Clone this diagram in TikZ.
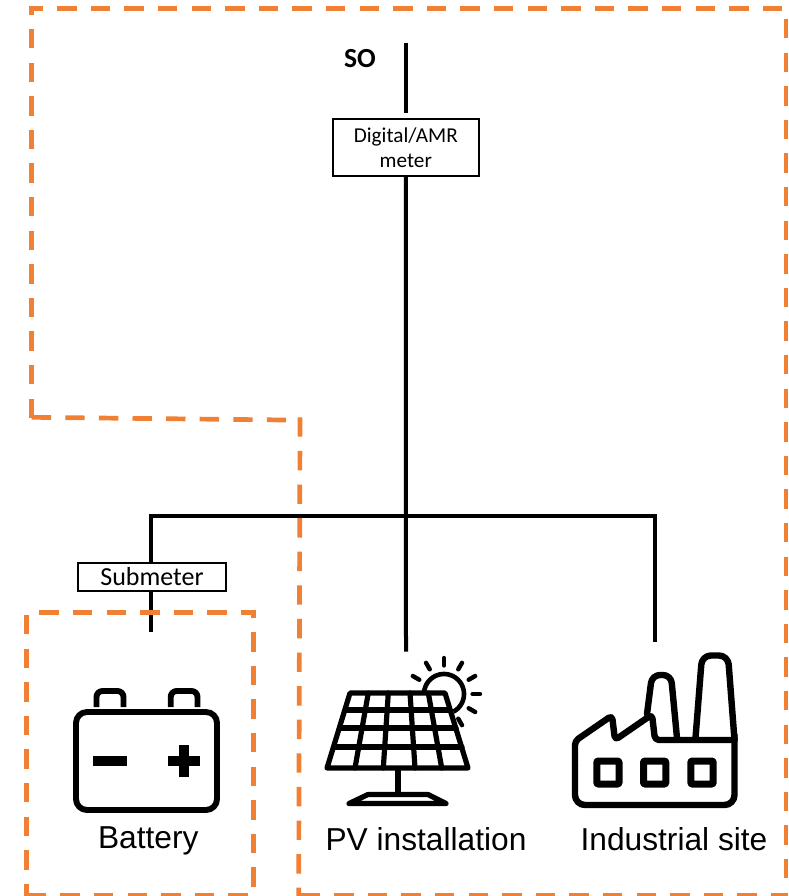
\documentclass[tikz,border=0pt]{standalone}
\usepackage{fontspec}
\setmainfont{Liberation Sans}
\newfontfamily\carl{Carlito}
\usetikzlibrary{calc}
\definecolor{dashorange}{RGB}{240,128,52}
\tikzset{
  zone/.style={draw=dashorange,line width=4.7pt,dash pattern=on 19.4pt off 14.2pt},
  wire/.style={draw=black,line width=4pt},
  meterbox/.style={draw=black,line width=2pt,fill=white,inner sep=0pt,align=center,text=black},
  icon/.style={draw=black,line width=5.9pt,line join=round,line cap=round},
  factory/.style={draw=black,line width=6.4pt,line join=round,line cap=round},
  panel/.style={draw=black,line width=5.2pt,line join=round,line cap=round},
  caption/.style={inner sep=0pt,anchor=base,text=black,font=\fontsize{31.7}{36}\selectfont},
}
\begin{document}
\begin{tikzpicture}[x=1pt,y=-1pt]
\useasboundingbox (0,0) rectangle (788,896);
% free connector ends
\coordinate (top) at (406,42.7);
\coordinate (mtop) at (406,113);
\coordinate (junction) at (406,516);
\coordinate (busL) at (151.3,516);
\coordinate (busR) at (655,516);
\coordinate (pvEnd) at (406,651.7);
\coordinate (batEnd) at (151.3,632);
\coordinate (indEnd) at (655,642);
% meters and label
\node[meterbox,minimum width=146.5pt,minimum height=56.5pt,font=\carl\fontsize{21.2}{25}\selectfont] (meter) at (405.8,147.5)
  {Digital/AMR\\ meter};
\node[meterbox,minimum width=148.6pt,minimum height=27.4pt,font=\carl\fontsize{26}{28}\selectfont] (sub) at (152,577)
  {Submeter};
\node[inner sep=0pt,anchor=base,text=black,font=\carl\bfseries\fontsize{27.6}{30}\selectfont] (so) at (360,68) {SO};
% wires
\draw[wire] (top) -- (mtop);
\draw[wire] (meter.south) -- (pvEnd);
\draw[wire,line cap=rect] (busL) -- (busR);
\draw[wire] (busL) -- (busL |- sub.north);
\draw[wire] (busL |- sub.south) -- (batEnd);
\draw[wire] (busR) -- (indEnd);
% orange zone around the site
\draw[zone] (31.5,418) -- (31.5,6.4);
\draw[zone,dash phase=8] (31.5,8.7) -- (786,8.7);
\draw[zone] (786,19) -- (786,896);
\draw[zone] (300.5,895.5) -- (788,895.5);
\draw[zone] (300,417.3) -- (298.7,896);
\draw[zone] (31.7,417.3) -- (286,420);
% orange zone around the battery
\draw[zone] (39.3,612.5) -- (255.8,612.5);
\draw[zone,dash phase=14] (253.5,612.5) -- (253.5,896);
\draw[zone] (26.7,615) -- (26.7,896);
\draw[zone] (26.7,895.5) -- (253,895.5);
% battery icon
\draw[icon,rounded corners=11pt] (76,712) rectangle (217,810);
\draw[icon,line cap=butt,rounded corners=6pt] (96.5,707) -- (96.5,691) -- (123.5,691) -- (123.5,707);
\draw[icon,line cap=butt,rounded corners=6pt] (170.7,707) -- (170.7,691) -- (197.5,691) -- (197.5,707);
\fill[black] (93,756) rectangle (127,766);
\fill[black] (168,756) rectangle (200,766);
\fill[black] (179,745) rectangle (189,777);
% solar panel icon
\draw[panel] (350,693) -- (445,693) -- (468,768) -- (327,768) -- cycle;
\draw[panel] (346,710) -- (450,710);
\draw[panel] (340,728) -- (456,728);
\draw[panel] (334.5,747) -- (462,747);
\draw[panel] (368.3,693) -- (355,768);
\draw[panel] (388.3,693) -- (383.3,768);
\draw[panel] (410,693) -- (415,768);
\draw[panel] (428.3,693) -- (441.7,768);
\draw[panel,line cap=butt] (398,768) -- (398,795);
\draw[panel] (349,803.5) -- (368,794.5) -- (428,794.5) -- (446,803.5) -- cycle;
\coordinate (sun) at (444,694);
\draw[panel,line cap=butt,line width=4.6pt] plot[smooth,domain=-180:62,samples=50] ({444+20*cos(\x)},{694+20*sin(\x)});
\foreach \a in {-150,-120,-90,-60,-30,0,30,60}
  \draw[panel,line width=4.4pt] ($(sun)+(\a:28.5)$) -- ($(sun)+(\a:36)$);
% factory icon
\draw[factory,rounded corners=10pt] (575,765) -- (575,805) -- (734.5,805) -- (734.5,735);
\draw[factory,rounded corners=4pt] (575,765) -- (575,741) -- (612,715.5) -- (615,740) -- (652,714.5) -- (655,740) -- (734.5,740);
\draw[factory,rounded corners=8pt] (647,714) -- (652,675) -- (671,675) -- (677,738);
\draw[factory,rounded corners=9pt] (695.5,738) -- (702,655.5) -- (728,655.5) -- (734.5,740);
\draw[factory,line width=7pt,rounded corners=1pt] (596.8,761) rectangle (619,784);
\draw[factory,line width=7pt,rounded corners=1pt] (643.5,761) rectangle (665.8,784);
\draw[factory,line width=7pt,rounded corners=1pt] (690.8,761) rectangle (713.2,784);
% captions
\node[caption] (battery) at (148.3,848.3) {Battery};
\node[caption] (pv) at (426,850.5) {PV installation};
\node[caption] (ind) at (674,850) {Industrial site};
\end{tikzpicture}
\end{document}
